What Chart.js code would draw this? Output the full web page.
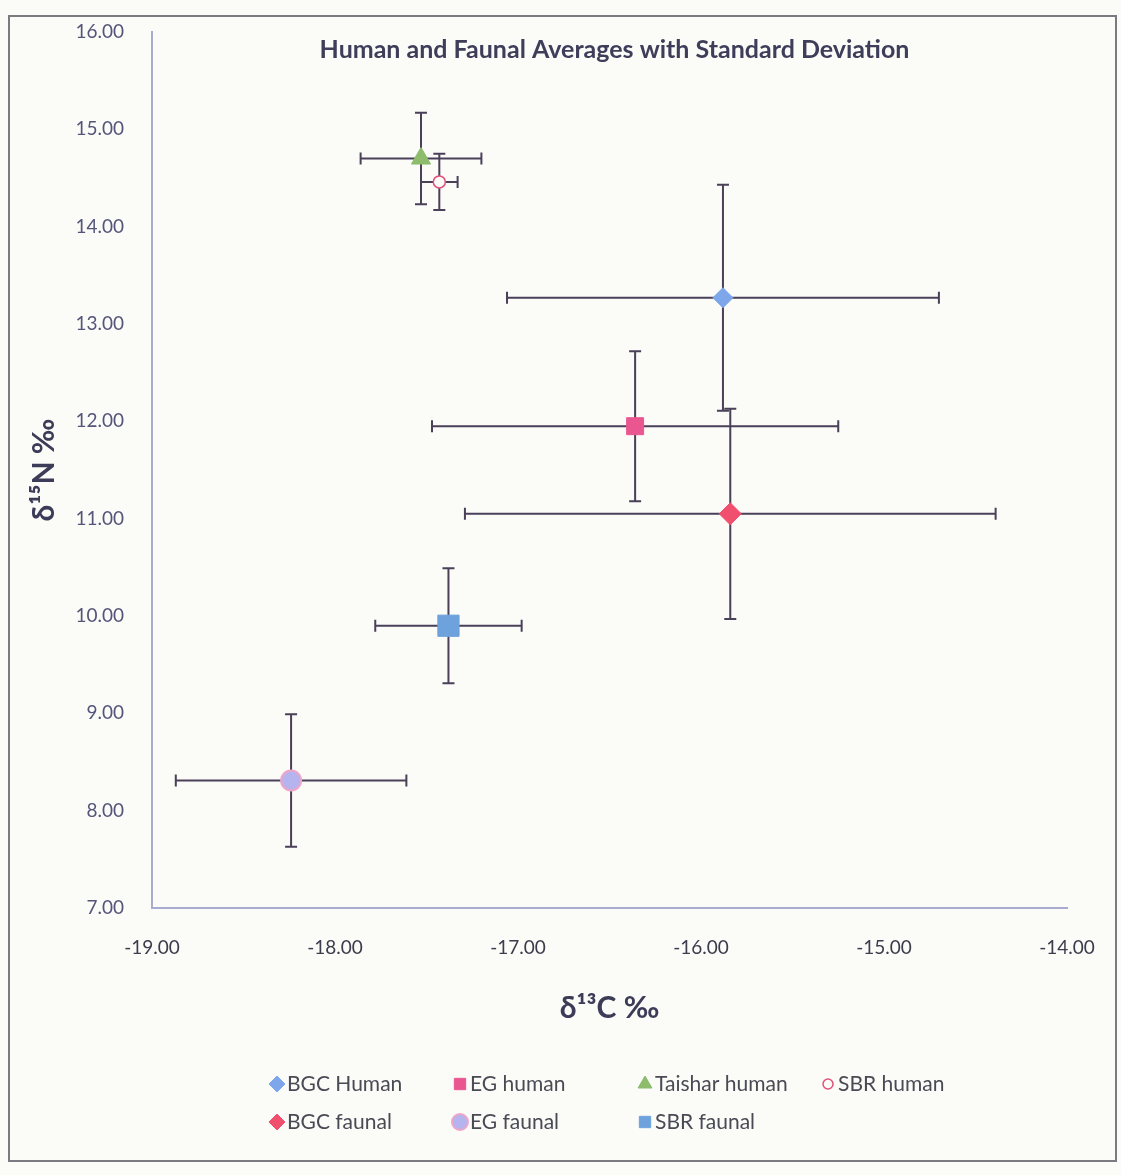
<!DOCTYPE html>
<html>
<head>
<meta charset="utf-8">
<script src="https://cdn.jsdelivr.net/npm/chart.js@4.4.1/dist/chart.umd.min.js"></script>
<style>
  html, body { margin: 0; padding: 0; background: #fbfbf8; }
  #wrap { width: 1121px; height: 1175px; }
</style>
</head>
<body>
<div id="wrap"><canvas id="isoChart" width="1121" height="1175"></canvas></div>
<script>
// group averages and standard deviations
const groups = ['BGC Human', 'EG human', 'Taishar human', 'SBR human', 'BGC faunal', 'EG faunal', 'SBR faunal'];
const carbonMean = [-15.88, -16.36, -17.53, -17.43, -15.84, -18.24, -17.38];
const nitrogenMean = [13.27, 11.95, 14.70, 14.46, 11.05, 8.31, 9.90];
const carbonSD = [1.18, 1.11, 0.33, 0.10, 1.45, 0.63, 0.40];
const nitrogenSD = [1.16, 0.77, 0.47, 0.29, 1.08, 0.68, 0.59];

const xTicks = [-19, -18, -17, -16, -15, -14];
const yTicks = [7, 8, 9, 10, 11, 12, 13, 14, 15, 16];

const markers = [
    { style: 'rectRot', radius: 10, fill: '#7ea6ea', border: '#7ea6ea', bw: 1 },
    { style: 'rect', radius: 12, fill: '#ea5690', border: '#ea5690', bw: 1 },
    { style: 'triangle', radius: 11, fill: '#8cbc6c', border: '#8cbc6c', bw: 1 },
    { style: 'circle', radius: 6, fill: '#fbfbf8', border: '#e5507a', bw: 1.5 },
    { style: 'rectRot', radius: 11, fill: '#f0506e', border: '#f0506e', bw: 1 },
    { style: 'circle', radius: 10, fill: '#b6b4ee', border: '#eea6c8', bw: 2 },
    { style: 'rect', radius: 15, fill: '#6ea2dc', border: '#6ea2dc', bw: 1 }
];

const datasets = groups.map((name, i) => ({
    label: name,
    data: [{ x: carbonMean[i], y: nitrogenMean[i] }],
    pointStyle: markers[i].style,
    pointRadius: markers[i].radius,
    pointHoverRadius: markers[i].radius,
    backgroundColor: markers[i].fill,
    borderColor: markers[i].border,
    borderWidth: markers[i].bw
}));

const errorBars = {
    id: 'errorBars',
    beforeDatasetsDraw(chart) {
        const { ctx, scales: { x, y } } = chart;
        const cap = 6;
        ctx.save();
        ctx.strokeStyle = '#4a4058';
        ctx.lineWidth = 2;
        groups.forEach((g, i) => {
            const px = x.getPixelForValue(carbonMean[i]);
            const py = y.getPixelForValue(nitrogenMean[i]);
            const x0 = x.getPixelForValue(carbonMean[i] - carbonSD[i]);
            const x1 = x.getPixelForValue(carbonMean[i] + carbonSD[i]);
            const y0 = y.getPixelForValue(nitrogenMean[i] - nitrogenSD[i]);
            const y1 = y.getPixelForValue(nitrogenMean[i] + nitrogenSD[i]);
            ctx.beginPath();
            ctx.moveTo(x0, py); ctx.lineTo(x1, py);
            ctx.moveTo(x0, py - cap); ctx.lineTo(x0, py + cap);
            ctx.moveTo(x1, py - cap); ctx.lineTo(x1, py + cap);
            ctx.moveTo(px, y0); ctx.lineTo(px, y1);
            ctx.moveTo(px - cap, y0); ctx.lineTo(px + cap, y0);
            ctx.moveTo(px - cap, y1); ctx.lineTo(px + cap, y1);
            ctx.stroke();
        });
        ctx.restore();
    }
};

// frame, title inside plot, legend at the bottom
const extras = {
    id: 'extras',
    beforeDraw(chart) {
        const ctx = chart.ctx;
        ctx.save();
        ctx.fillStyle = '#fbfbf8';
        ctx.fillRect(0, 0, chart.width, chart.height);
        ctx.strokeStyle = '#7a7a80';
        ctx.lineWidth = 2;
        ctx.strokeRect(9, 16, chart.width - 14, chart.height - 30);
        ctx.restore();
    },
    afterDraw(chart) {
        const { ctx, chartArea } = chart;
        ctx.save();
        ctx.fillStyle = '#3e3e5a';
        ctx.font = 'bold 25px Lato';
        ctx.textAlign = 'center';
        ctx.textBaseline = 'middle';
        ctx.fillText('Human and Faunal Averages with Standard Deviation', (chartArea.left + chartArea.right) / 2 + 5, chartArea.top + 18);

        const cols = [277, 460, 645, 828];
        const rows = [1084, 1122];
        ctx.font = '21px Lato';
        ctx.textAlign = 'left';
        groups.forEach((g, i) => {
            const cx = cols[i < 4 ? i : i - 4];
            const cy = rows[i < 4 ? 0 : 1];
            const m = markers[i];
            const r = i === 3 ? 5 : 8;
            ctx.fillStyle = m.fill;
            ctx.strokeStyle = m.border;
            ctx.lineWidth = m.bw;
            Chart.helpers.drawPoint(ctx, { pointStyle: m.style, radius: r, rotation: 0, borderWidth: m.bw }, cx, cy);
            ctx.fillStyle = '#4a4a55';
            ctx.fillText(g, cx + 10, cy);
        });
        ctx.restore();
    }
};

new Chart(document.getElementById('isoChart'), {
    type: 'scatter',
    data: { datasets },
    plugins: [extras, errorBars],
    options: {
        responsive: false,
        animation: false,
        layout: { padding: { left: 26, top: 32, right: 54, bottom: 147 } },
        plugins: {
            legend: { display: false },
            tooltip: { enabled: false }
        },
        scales: {
            x: {
                type: 'linear',
                min: xTicks[0],
                max: xTicks[xTicks.length - 1],
                afterBuildTicks: s => { s.ticks = xTicks.map(v => ({ value: v })); },
                afterFit: s => { s.height = 120; },
                grid: { display: false },
                border: { display: true, color: '#a9acd0', width: 2 },
                ticks: {
                    padding: 20,
                    color: '#3c3c4c',
                    font: { family: 'Lato', size: 19 },
                    callback: v => v.toFixed(2)
                },
                title: {
                    display: true,
                    text: 'δ¹³C ‰',
                    color: '#3c3c58',
                    font: { family: 'Lato', size: 30, weight: 'bold' },
                    padding: { top: 0, bottom: 2 }
                }
            },
            y: {
                type: 'linear',
                min: yTicks[0],
                max: yTicks[yTicks.length - 1],
                afterBuildTicks: s => { s.ticks = yTicks.map(v => ({ value: v })); },
                afterFit: s => { s.width = 126; },
                grid: { display: false },
                border: { display: true, color: '#a9acd0', width: 2 },
                ticks: {
                    padding: 20,
                    color: '#55557a',
                    font: { family: 'Lato', size: 19 },
                    callback: v => v.toFixed(2)
                },
                title: {
                    display: true,
                    text: 'δ¹⁵N ‰',
                    color: '#3c3c58',
                    font: { family: 'Lato', size: 30, weight: 'bold' },
                    padding: { top: 0, bottom: 0 }
                }
            }
        }
    }
});
</script>
</body>
</html>
